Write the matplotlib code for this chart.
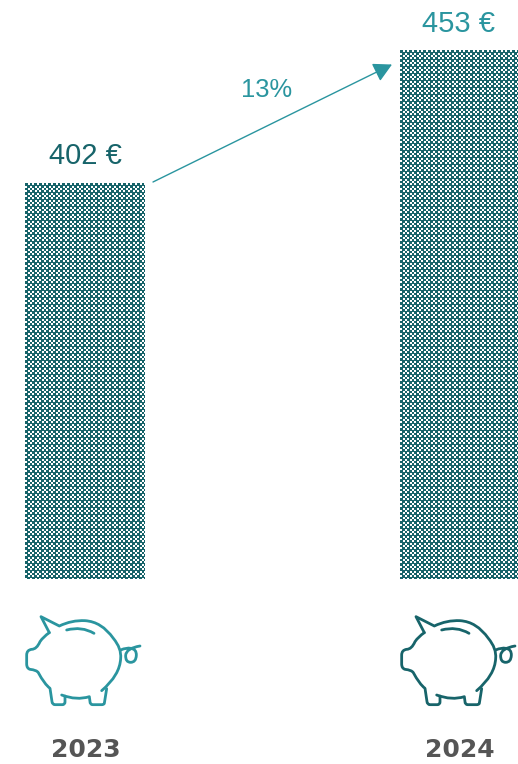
import numpy as np
import matplotlib
matplotlib.use("Agg")
import matplotlib.pyplot as plt
from matplotlib.path import Path
from matplotlib.patches import PathPatch

years = ["2023", "2024"]
values = [402, 453]
value_labels = ["402 €", "453 €"]
growth_label = "13%"
baseline = 250.2

DARK = "#17646a"
LIGHT = "#2a959f"
GREY = "#555555"
W, H = 518, 764

fig = plt.figure(figsize=(W / 100, H / 100), dpi=100)

# bars, truncated axis like the original
ax = fig.add_axes([0, (H - 579) / H, 1, 579 / H])
ax.set_xlim(-0.2256, 1.1576)
ax.set_ylim(baseline, 472.2)
ax.axis("off")

# 14 px repeat of the fill: cells 3,2,2,3,2,2 wide, white squares only 2 px
cell_no = np.array([0, 0, 0, 1, 1, 2, 2, 3, 3, 3, 4, 4, 5, 5])
cell_pos = np.array([0, 1, 2, 0, 1, 0, 1, 0, 1, 2, 0, 1, 0, 1])
tile = np.zeros((14, 14))
for r in range(14):
    for c in range(14):
        white = (cell_no[r] + cell_no[c]) % 2 == 1 and cell_pos[r] < 2 and cell_pos[c] < 2
        tile[r, c] = 0 if white else 1

yy, xx = np.mgrid[0:579, 0:W]
cmap = matplotlib.colors.ListedColormap(["white", DARK])

bars = ax.bar([0, 1], np.array(values) - baseline, width=0.316, bottom=baseline,
              facecolor="none", edgecolor="none")
for b in bars:
    # pattern starts at the top left corner of each bar, figimage keeps it 1:1 in pixels
    box = b.get_window_extent()
    x0, y0 = round(box.x0), round(H - box.y1)
    fill = tile[(yy - y0) % 14, (xx - x0) % 14]
    im = fig.figimage(fill, xo=0, yo=H - 579, origin="upper", cmap=cmap, vmin=0, vmax=1)
    im.set_clip_path(b)

# everything else is placed in pixel coordinates
px = fig.add_axes([0, 0, 1, 1], facecolor="none")
px.set_xlim(0, W)
px.set_ylim(H, 0)
px.axis("off")

sans = "Liberation Sans"
px.text(85.5, 156.5, value_labels[0], color=DARK, fontsize=21, family=sans, ha="center", va="center")
px.text(458.5, 24, value_labels[1], color=LIGHT, fontsize=21, family=sans, ha="center", va="center")
px.text(266.5, 90, growth_label, color=LIGHT, fontsize=18.4, family=sans, ha="center", va="center")
px.annotate("", xy=(392, 64.5), xytext=(153, 182),
            arrowprops=dict(arrowstyle="-|>,head_length=0.75,head_width=0.4", color=LIGHT,
                            lw=1, shrinkA=0, shrinkB=0, mutation_scale=15))

# piggy bank outline, in pixels of the first icon
M, L, C = Path.MOVETO, Path.LINETO, Path.CURVE3
def z(x, y):
    return (10 + x / 3, 600 + y / 3)

body = [
    (M, 118, 98), (L, 93, 50), (L, 148, 78),
    (C, 185, 60), (C, 225, 62), (C, 275, 65), (C, 310, 115),
    (C, 335, 145), (C, 332, 175), (C, 330, 225), (C, 275, 272),
]
hind = [
    (M, 290, 266), (L, 283, 310), (C, 282, 314), (C, 275, 314), (L, 248, 314),
    (C, 240, 314), (C, 240, 305), (L, 238, 290),
    (C, 200, 302), (C, 155, 285),
]
front = [
    (M, 165, 288), (L, 165, 306), (C, 165, 314), (C, 157, 314), (L, 135, 314),
    (C, 127, 314), (C, 126, 305), (L, 120, 265),
    (C, 103, 252), (C, 85, 218), (C, 80, 210), (C, 60, 208),
    (C, 50, 205), (C, 50, 192), (L, 50, 165), (C, 50, 150), (C, 65, 148),
    (C, 80, 148), (C, 90, 125), (C, 100, 110), (C, 118, 98),
]
slot = [(M, 170, 90), (C, 215, 78), (C, 252, 100)]
tail = [
    (M, 332, 150), (C, 350, 142), (C, 362, 145),
    (C, 380, 147), (C, 379, 166), (C, 378, 187), (C, 362, 187),
    (C, 346, 187), (C, 347, 166), (C, 348, 145), (C, 390, 138),
]

shifts = [0, 375]
colors = [LIGHT, DARK]
for dx, col in zip(shifts, colors):
    for part in [body, hind, front, slot, tail]:
        codes = [p[0] for p in part]
        verts = [(z(p[1], p[2])[0] + dx, z(p[1], p[2])[1]) for p in part]
        px.add_patch(PathPatch(Path(verts, codes), facecolor="none", edgecolor=col,
                               lw=2.0, capstyle="round", joinstyle="round"))

for x, yr in zip([85.5, 460], years):
    px.text(x, 750, yr, color=GREY, fontsize=18, family="DejaVu Sans", weight="bold",
            ha="center", va="center")

fig.savefig("out.png", dpi=100)
